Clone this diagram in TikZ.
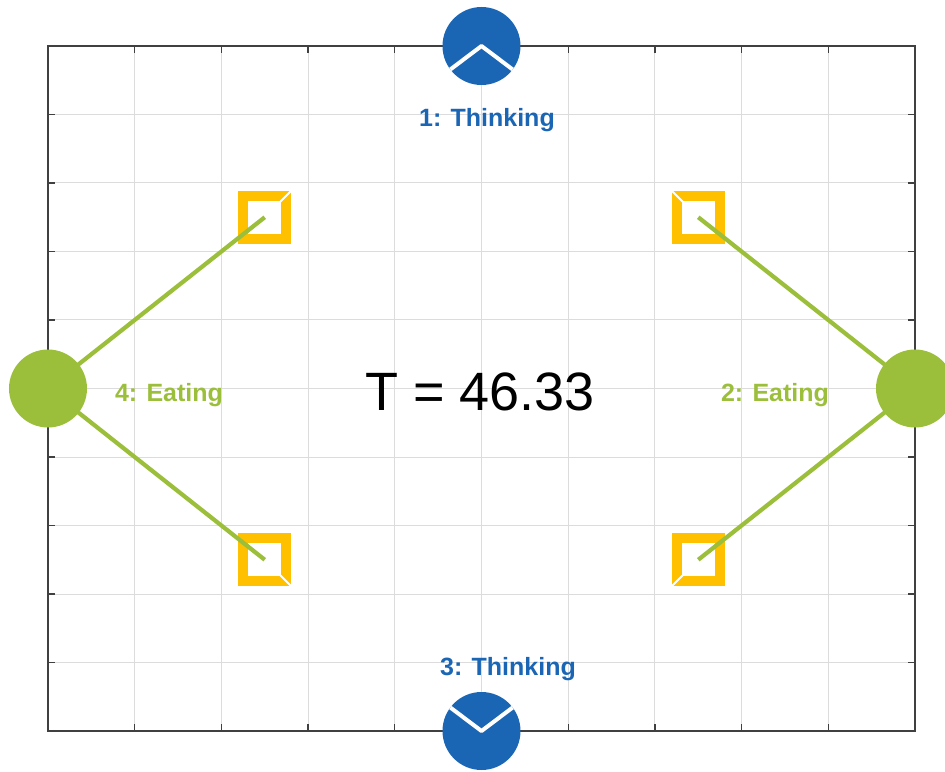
\documentclass[tikz,border=0pt]{standalone}
\usepackage{fontspec}
\setmainfont{Liberation Sans}
\usetikzlibrary{calc}
\definecolor{phblue}{HTML}{1A66B4}
\definecolor{phgreen}{HTML}{9BBF3B}
\definecolor{phyellow}{HTML}{FFC000}
\definecolor{gridgray}{HTML}{DCDCDC}
\definecolor{axgray}{HTML}{404040}
\tikzset{
  gridline/.style={draw=gridgray, line width=1pt},
  axisline/.style={draw=axgray, line width=1.3pt},
  forkbox/.style={draw=phyellow, line width=10pt, minimum size=43pt, inner sep=0pt, outer sep=0pt, rectangle},
  forkcut/.style={draw=white, line width=2pt},
  hold/.style={draw=phgreen, line width=4.2pt},
  philo/.style={circle, minimum size=78pt, inner sep=0pt, outer sep=0pt},
  chev/.style={draw=white, line width=4pt, line join=round},
  lbl/.style={font=\bfseries\fontsize{25}{30}\selectfont, anchor=base, inner sep=0pt}
}
\begin{document}
\begin{tikzpicture}[x=86.7pt,y=68.5pt]
\useasboundingbox (-481.5pt,-382.5pt) rectangle (463.5pt,388.5pt);
% grid
\foreach \i in {-4,...,4} {
  \draw[gridline] (\i,-5) -- (\i,5);
  \draw[gridline] (-5,\i) -- (5,\i);
}
% ticks
\foreach \i in {-4,...,4} {
  \draw[axisline] (\i,-5) -- ++(0,7pt);
  \draw[axisline] (\i,5) -- ++(0,-7pt);
  \draw[axisline] (-5,\i) -- ++(7pt,0);
  \draw[axisline] (5,\i) -- ++(-7pt,0);
}
\draw[axisline] (-5,-5) rectangle (5,5);
% forks
\node[forkbox] (f1) at (-2.5,2.5) {};
\node[forkbox] (f2) at (2.5,2.5) {};
\node[forkbox] (f3) at (-2.5,-2.5) {};
\node[forkbox] (f4) at (2.5,-2.5) {};
\draw[forkcut] ($(f1.north east)+(6pt,6pt)$) -- ($(f1.north east)+(-6pt,-6pt)$);
\draw[forkcut] ($(f2.north west)+(-6pt,6pt)$) -- ($(f2.north west)+(6pt,-6pt)$);
\draw[forkcut] ($(f3.south east)+(6pt,-6pt)$) -- ($(f3.south east)+(-6pt,6pt)$);
\draw[forkcut] ($(f4.south west)+(-6pt,-6pt)$) -- ($(f4.south west)+(6pt,6pt)$);
% philosophers
\node[philo] (p1) at (0,5) {};
\node[philo] (p2) at (5,0) {};
\node[philo] (p3) at (0,-5) {};
\node[philo] (p4) at (-5,0) {};
\draw[hold] (p4.center) -- (f1.center);
\draw[hold] (p4.center) -- (f3.center);
\draw[hold] (p2.center) -- (f2.center);
\draw[hold] (p2.center) -- (f4.center);
\fill[phgreen] (p2) circle (39pt);
\fill[phgreen] (p4) circle (39pt);
\fill[phblue] (p1) circle (39pt);
\fill[phblue] (p3) circle (39pt);
\draw[chev] (p1.-143) -- (p1.center) -- (p1.-37);
\draw[chev] (p3.143) -- (p3.center) -- (p3.37);
% labels
\node[lbl, text=phblue] (l1) at (0.063,3.832) {1: Thinking};
\node[lbl, text=phblue] (l3) at (0.306,-4.197) {3: Thinking};
\node[lbl, text=phgreen] (l4) at (-3.604,-0.197) {4: Eating};
\node[lbl, text=phgreen] (l2) at (3.385,-0.197) {2: Eating};
\node[anchor=base, inner sep=0pt, font=\fontsize{54}{60}\selectfont] (tt) at (-0.017,-0.328) {T = 46.33};
\end{tikzpicture}
\end{document}
